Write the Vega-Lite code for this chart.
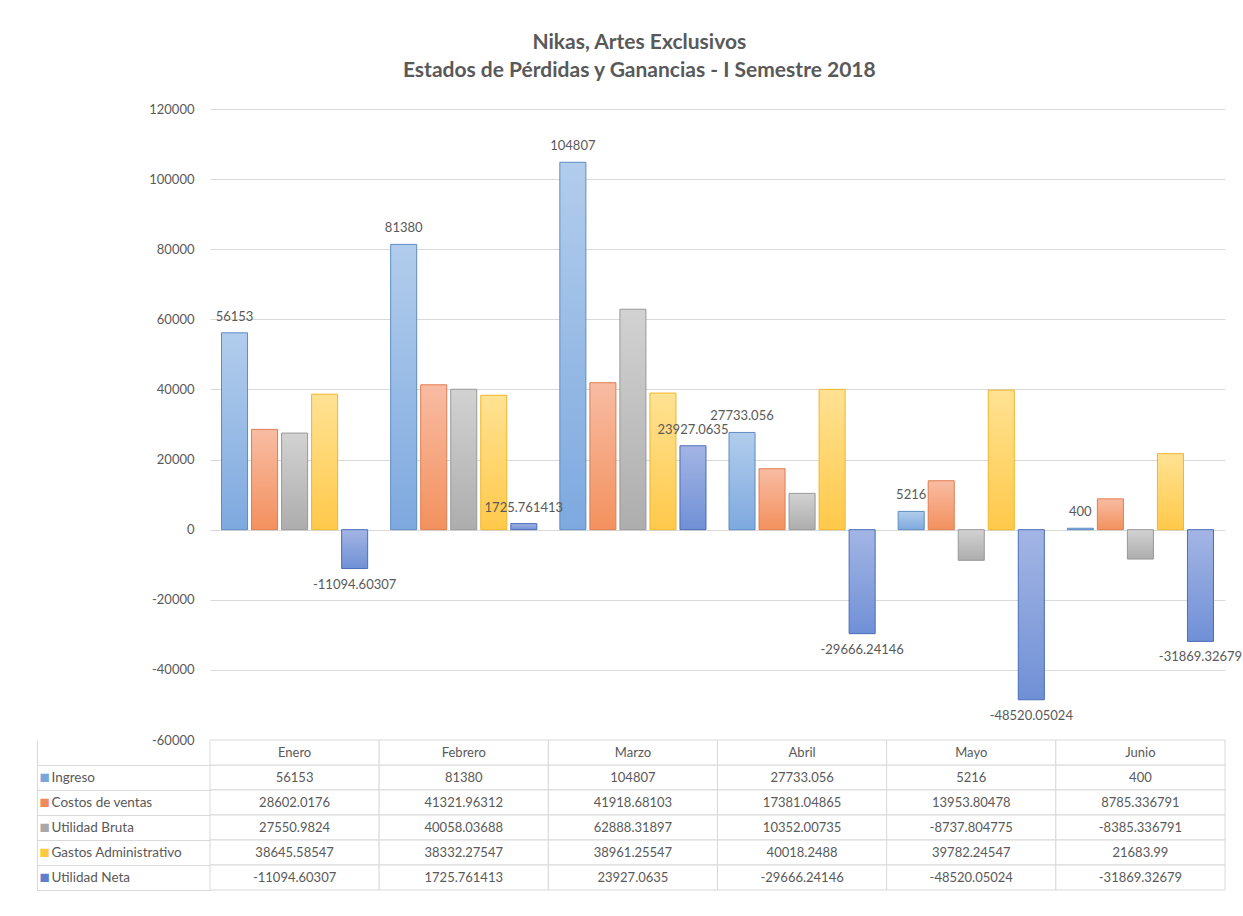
{
  "$schema": "https://vega.github.io/schema/vega-lite/v6.json",
  "background": "white",
  "padding": {"left": 36, "top": 32, "right": 10, "bottom": 10},
  "bounds": "flush",
  "title": {
    "text": ["Nikas, Artes Exclusivos", "Estados de Pérdidas y Ganancias - I Semestre 2018"],
    "font": "Lato", "fontSize": 21, "fontWeight": "bold", "color": "#595959",
    "lineHeight": 28, "offset": 22, "anchor": "middle"
  },
  "config": {
    "view": {"stroke": null},
    "font": "Lato",
    "text": {"font": "Lato"}
  },
  "datasets": {
    "valores": [
      {"mes": "Enero", "serie": "Ingreso", "valor": 56153},
      {"mes": "Enero", "serie": "Costos de ventas", "valor": 28602.0176},
      {"mes": "Enero", "serie": "Utilidad Bruta", "valor": 27550.9824},
      {"mes": "Enero", "serie": "Gastos Administrativo", "valor": 38645.58547},
      {"mes": "Enero", "serie": "Utilidad Neta", "valor": -11094.60307},
      {"mes": "Febrero", "serie": "Ingreso", "valor": 81380},
      {"mes": "Febrero", "serie": "Costos de ventas", "valor": 41321.96312},
      {"mes": "Febrero", "serie": "Utilidad Bruta", "valor": 40058.03688},
      {"mes": "Febrero", "serie": "Gastos Administrativo", "valor": 38332.27547},
      {"mes": "Febrero", "serie": "Utilidad Neta", "valor": 1725.761413},
      {"mes": "Marzo", "serie": "Ingreso", "valor": 104807},
      {"mes": "Marzo", "serie": "Costos de ventas", "valor": 41918.68103},
      {"mes": "Marzo", "serie": "Utilidad Bruta", "valor": 62888.31897},
      {"mes": "Marzo", "serie": "Gastos Administrativo", "valor": 38961.25547},
      {"mes": "Marzo", "serie": "Utilidad Neta", "valor": 23927.0635},
      {"mes": "Abril", "serie": "Ingreso", "valor": 27733.056},
      {"mes": "Abril", "serie": "Costos de ventas", "valor": 17381.04865},
      {"mes": "Abril", "serie": "Utilidad Bruta", "valor": 10352.00735},
      {"mes": "Abril", "serie": "Gastos Administrativo", "valor": 40018.2488},
      {"mes": "Abril", "serie": "Utilidad Neta", "valor": -29666.24146},
      {"mes": "Mayo", "serie": "Ingreso", "valor": 5216},
      {"mes": "Mayo", "serie": "Costos de ventas", "valor": 13953.80478},
      {"mes": "Mayo", "serie": "Utilidad Bruta", "valor": -8737.804775},
      {"mes": "Mayo", "serie": "Gastos Administrativo", "valor": 39782.24547},
      {"mes": "Mayo", "serie": "Utilidad Neta", "valor": -48520.05024},
      {"mes": "Junio", "serie": "Ingreso", "valor": 400},
      {"mes": "Junio", "serie": "Costos de ventas", "valor": 8785.336791},
      {"mes": "Junio", "serie": "Utilidad Bruta", "valor": -8385.336791},
      {"mes": "Junio", "serie": "Gastos Administrativo", "valor": 21683.99},
      {"mes": "Junio", "serie": "Utilidad Neta", "valor": -31869.32679}
    ],
    "meses": [
      {"mes": "Enero"}, {"mes": "Febrero"}, {"mes": "Marzo"},
      {"mes": "Abril"}, {"mes": "Mayo"}, {"mes": "Junio"}
    ]
  },
  "spacing": 0,
  "resolve": {"scale": {"x": "independent", "y": "independent", "color": "independent"}},
  "vconcat": [
    {
      "width": 1015,
      "height": 631,
      "data": {"name": "valores"},
      "encoding": {
        "x": {
          "field": "mes", "type": "nominal",
          "sort": ["Enero", "Febrero", "Marzo", "Abril", "Mayo", "Junio"],
          "scale": {"paddingInner": 0.136, "paddingOuter": 0.068},
          "axis": null
        },
        "xOffset": {
          "field": "serie", "type": "nominal",
          "sort": ["Ingreso", "Costos de ventas", "Utilidad Bruta", "Gastos Administrativo", "Utilidad Neta"],
          "scale": {"domain": ["Ingreso", "Costos de ventas", "Utilidad Bruta", "Gastos Administrativo", "Utilidad Neta"], "paddingInner": 0.133}
        },
        "y": {
          "field": "valor", "type": "quantitative",
          "scale": {"domain": [-60000, 120000], "nice": false},
          "axis": {
            "title": null,
            "values": [-60000, -40000, -20000, 0, 20000, 40000, 60000, 80000, 100000, 120000],
            "labelExpr": "'' + datum.value", "domain": false, "ticks": false, "labelPadding": 16,
            "gridColor": "#d9d9d9", "labelColor": "#595959", "labelFontSize": 13
          }
        }
      },
      "layer": [
        {
          "transform": [{"filter": "datum.serie === 'Ingreso'"}],
          "mark": {"type": "bar", "strokeWidth": 1, "stroke": "#5d8cc4",
            "color": {"gradient": "linear", "x1": 0, "y1": 0, "x2": 0, "y2": 1,
              "stops": [{"offset": 0, "color": "#b2cdec"}, {"offset": 1, "color": "#7ea9df"}]}}
        },
        {
          "transform": [{"filter": "datum.serie === 'Costos de ventas'"}],
          "mark": {"type": "bar", "strokeWidth": 1, "stroke": "#df7d52",
            "color": {"gradient": "linear", "x1": 0, "y1": 0, "x2": 0, "y2": 1,
              "stops": [{"offset": 0, "color": "#f8bca3"}, {"offset": 1, "color": "#f3915e"}]}}
        },
        {
          "transform": [{"filter": "datum.serie === 'Utilidad Bruta'"}],
          "mark": {"type": "bar", "strokeWidth": 1, "stroke": "#999999",
            "color": {"gradient": "linear", "x1": 0, "y1": 0, "x2": 0, "y2": 1,
              "stops": [{"offset": 0, "color": "#d2d2d2"}, {"offset": 1, "color": "#adadad"}]}}
        },
        {
          "transform": [{"filter": "datum.serie === 'Gastos Administrativo'"}],
          "mark": {"type": "bar", "strokeWidth": 1, "stroke": "#f0b62a",
            "color": {"gradient": "linear", "x1": 0, "y1": 0, "x2": 0, "y2": 1,
              "stops": [{"offset": 0, "color": "#ffe293"}, {"offset": 1, "color": "#ffc94a"}]}}
        },
        {
          "transform": [{"filter": "datum.serie === 'Utilidad Neta'"}],
          "mark": {"type": "bar", "strokeWidth": 1, "stroke": "#4a6cb8",
            "color": {"gradient": "linear", "x1": 0, "y1": 0, "x2": 0, "y2": 1,
              "stops": [{"offset": 0, "color": "#a3b5e4"}, {"offset": 1, "color": "#7090d6"}]}}
        },
        {
          "transform": [{"filter": "(datum.serie === 'Ingreso' || datum.serie === 'Utilidad Neta') && datum.valor >= 0"}],
          "mark": {"type": "text", "baseline": "bottom", "dy": -9, "fontSize": 13, "color": "#595959"},
          "encoding": {"text": {"field": "valor", "type": "nominal"}}
        },
        {
          "transform": [{"filter": "(datum.serie === 'Ingreso' || datum.serie === 'Utilidad Neta') && datum.valor < 0"}],
          "mark": {"type": "text", "baseline": "top", "dy": 10, "fontSize": 13, "color": "#595959"},
          "encoding": {"text": {"field": "valor", "type": "nominal"}}
        }
      ]
    },
    {
      "width": 1015,
      "height": 150,
      "resolve": {"axis": {"y": "independent"}},
      "encoding": {
        "x": {
          "field": "mes", "type": "nominal",
          "sort": ["Enero", "Febrero", "Marzo", "Abril", "Mayo", "Junio"],
          "scale": {"paddingInner": 0, "paddingOuter": 0},
          "axis": null
        }
      },
      "layer": [
        {
          "data": {"name": "valores"},
          "mark": {"type": "rect", "fill": "white", "stroke": "#d9d9d9", "strokeWidth": 1},
          "encoding": {
            "y": {
              "field": "serie", "type": "nominal",
              "scale": {
                "domain": ["hdr", "Ingreso", "Costos de ventas", "Utilidad Bruta", "Gastos Administrativo", "Utilidad Neta"],
                "paddingInner": 0, "paddingOuter": 0
              },
              "axis": {
                "orient": "left", "title": null, "domain": false, "grid": false,
                "values": ["hdr", "Ingreso", "Costos de ventas", "Utilidad Bruta", "Gastos Administrativo", "Utilidad Neta"],
                "ticks": true, "tickSize": 173, "bandPosition": 1, "tickExtra": false,
                "tickColor": "#d9d9d9",
                "labelExpr": "datum.value === 'hdr' ? '' : datum.value",
                "labelAlign": "left", "labelPadding": -14,
                "labelColor": "#595959", "labelFontSize": 13.5
              }
            }
          }
        },
        {
          "data": {"name": "valores"},
          "mark": {"type": "text", "fontSize": 13, "color": "#595959"},
          "encoding": {
            "y": {
              "field": "serie", "type": "nominal",
              "axis": {
                "orient": "left", "title": null, "domain": false, "grid": false,
                "ticks": false, "tickSize": 0,
                "values": ["Ingreso", "Costos de ventas", "Utilidad Bruta", "Gastos Administrativo", "Utilidad Neta"],
                "labelExpr": "'■'",
                "labelAlign": "left", "labelPadding": 171, "labelFontSize": 17,
                "labelColor": {
                  "condition": [
                    {"test": "datum.value === 'Ingreso'", "value": "#7aa6dc"},
                    {"test": "datum.value === 'Costos de ventas'", "value": "#ef8a5a"},
                    {"test": "datum.value === 'Utilidad Bruta'", "value": "#a8a8a8"},
                    {"test": "datum.value === 'Gastos Administrativo'", "value": "#ffc83d"}
                  ],
                  "value": "#5f7fcb"
                }
              }
            },
            "text": {"field": "valor", "type": "nominal"}
          }
        },
        {
          "data": {"name": "meses"},
          "mark": {"type": "rect", "fill": "white", "stroke": "#d9d9d9", "strokeWidth": 1},
          "encoding": {
            "y": {
              "datum": "hdr", "type": "nominal",
              "axis": {
                "orient": "left", "title": null, "domain": true, "domainColor": "#d9d9d9",
                "ticks": false, "labels": false, "grid": false, "offset": 173
              }
            }
          }
        },
        {
          "data": {"name": "meses"},
          "mark": {"type": "text", "fontSize": 13, "color": "#595959"},
          "encoding": {
            "y": {"datum": "hdr", "type": "nominal", "axis": null},
            "text": {"field": "mes", "type": "nominal"}
          }
        }
      ]
    }
  ]
}
